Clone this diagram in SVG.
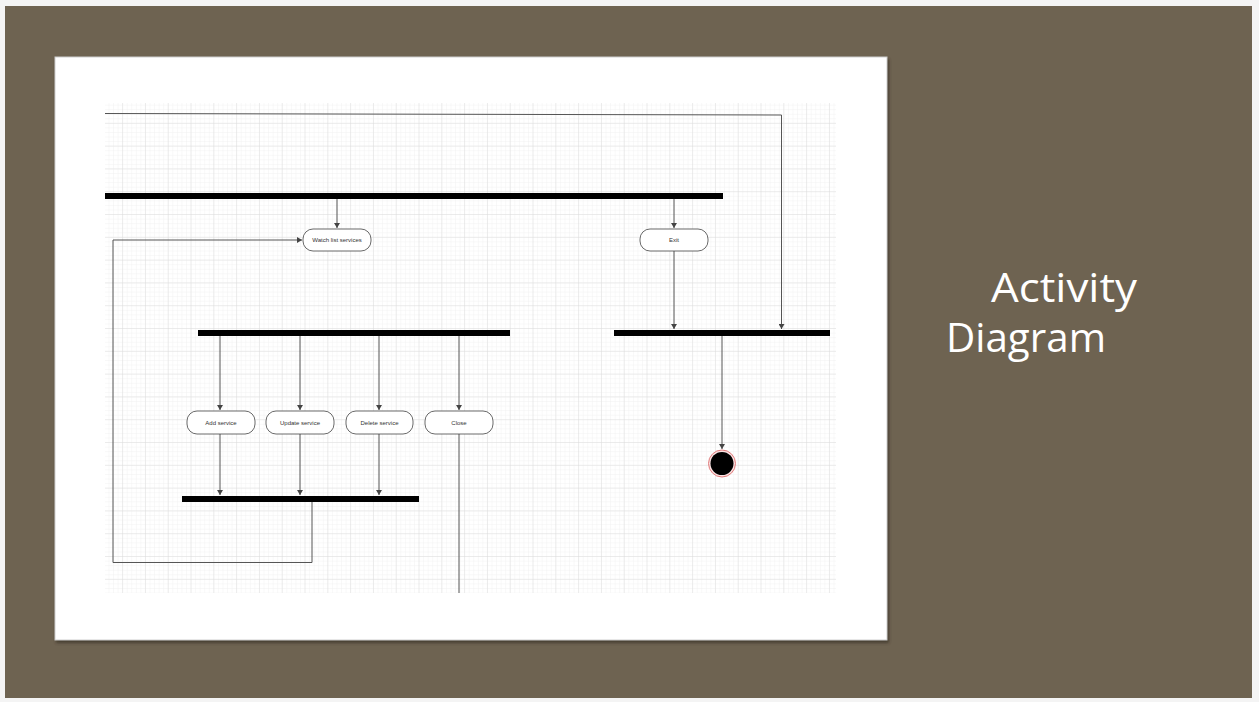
<svg xmlns="http://www.w3.org/2000/svg" width="1259" height="702" viewBox="0 0 1259 702">
<style>
.node rect{fill:#fff;stroke:#444;stroke-width:0.8}
.lbl{font-family:"Liberation Sans",Arial,sans-serif;font-size:6px;fill:#333;text-anchor:middle}
.bar{fill:#000}
.conn{fill:none;stroke:#555;stroke-width:1}
.title{font-family:"Open Sans","Liberation Sans",sans-serif;font-size:41px;fill:#fff}
</style>
<defs>
<marker id="arr" markerWidth="6" markerHeight="6" refX="5" refY="3" orient="auto" markerUnits="userSpaceOnUse">
<path d="M0,0 L5,3 L0,6 Z" fill="#444"/>
</marker>
<pattern id="minor" x="100.3" y="101" width="4.56" height="4.56" patternUnits="userSpaceOnUse">
<path d="M4.56,0 V4.56 M0,4.56 H4.56" stroke="#efefef" stroke-width="0.8" fill="none"/>
</pattern>
<pattern id="major" x="100.3" y="101" width="22.8" height="22.8" patternUnits="userSpaceOnUse">
<path d="M22.8,0 V22.8 M0,22.8 H22.8" stroke="#d6d6d6" stroke-width="0.8" fill="none"/>
</pattern>
<filter id="sh" x="-5%" y="-5%" width="110%" height="110%">
<feGaussianBlur stdDeviation="1.5"/>
</filter>
</defs>
<rect x="0" y="0" width="1259" height="702" fill="#f4f4f4"/>
<rect x="5" y="6" width="1247" height="692" fill="#6e6351"/>
<rect x="56" y="59" width="833" height="584" fill="#3d352a" filter="url(#sh)" opacity="0.8"/>
<rect x="55" y="57" width="832" height="583" fill="#fff" stroke="#cfcfcf" stroke-width="1"/>
<rect x="105" y="103" width="731" height="490" fill="url(#minor)"/>
<rect x="105" y="103" width="731" height="490" fill="url(#major)"/>

<g id="connectors">
<path class="conn" d="M105,113.5 L781.5,115 L781.5,329" marker-end="url(#arr)"/>
<path class="conn" d="M337,199 V228" marker-end="url(#arr)"/>
<path class="conn" d="M674,199 V228" marker-end="url(#arr)"/>
<path class="conn" d="M674,251 V329" marker-end="url(#arr)"/>
<path class="conn" d="M722,336 V449" marker-end="url(#arr)"/>
<path class="conn" d="M220,336 V410" marker-end="url(#arr)"/>
<path class="conn" d="M300,336 V410" marker-end="url(#arr)"/>
<path class="conn" d="M379,336 V410" marker-end="url(#arr)"/>
<path class="conn" d="M459,336 V410" marker-end="url(#arr)"/>
<path class="conn" d="M220,434 V495" marker-end="url(#arr)"/>
<path class="conn" d="M300,434 V495" marker-end="url(#arr)"/>
<path class="conn" d="M379,434 V495" marker-end="url(#arr)"/>
<path class="conn" d="M459,434 V593"/>
<path class="conn" d="M312,502 V562.5 H113 V240 H302" marker-end="url(#arr)"/>
</g>

<g id="bar-top"><rect class="bar" x="105" y="193" width="618" height="6"/></g>
<g id="bar-middle"><rect class="bar" x="198" y="330" width="312" height="6"/></g>
<g id="bar-right"><rect class="bar" x="614" y="330" width="216" height="6"/></g>
<g id="bar-bottom"><rect class="bar" x="182" y="496" width="237" height="6"/></g>

<g id="node-watch" class="node"><rect x="303" y="229" width="68" height="22" rx="10"/><text class="lbl" x="337" y="242">Watch list services</text></g>
<g id="node-exit" class="node"><rect x="640" y="229" width="68" height="22" rx="10"/><text class="lbl" x="674" y="242">Exit</text></g>
<g id="node-add" class="node"><rect x="187" y="411" width="68" height="23" rx="10"/><text class="lbl" x="221" y="424.5">Add service</text></g>
<g id="node-update" class="node"><rect x="266" y="411" width="68" height="23" rx="10"/><text class="lbl" x="300" y="424.5">Update service</text></g>
<g id="node-delete" class="node"><rect x="346" y="411" width="67" height="23" rx="10"/><text class="lbl" x="379.5" y="424.5">Delete service</text></g>
<g id="node-close" class="node"><rect x="425" y="411" width="68" height="23" rx="10"/><text class="lbl" x="459" y="424.5">Close</text></g>

<g id="node-final">
<circle cx="722" cy="463.5" r="13.5" fill="#fbe3e3" stroke="#e07a7a" stroke-width="1"/>
<circle cx="722" cy="463.5" r="11.5" fill="#000"/>
</g>

<g id="title">
<text class="title" x="991" y="302" textLength="146" lengthAdjust="spacingAndGlyphs">Activity</text>
<text class="title" x="946" y="352" textLength="160" lengthAdjust="spacingAndGlyphs">Diagram</text>
</g>
</svg>
